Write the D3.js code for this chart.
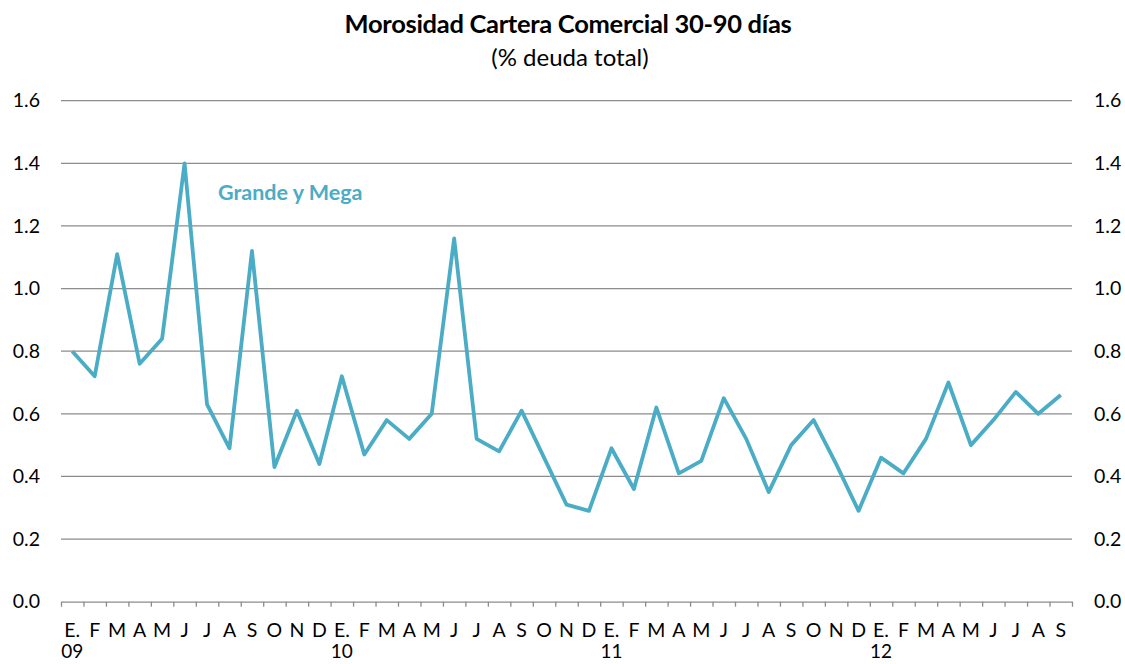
<!DOCTYPE html>
<html>
<head>
<meta charset="utf-8">
<script src="https://cdn.jsdelivr.net/npm/d3@7"></script>
<style>
  body { margin: 0; background: #fff; }
  text { font-family: Lato, "Open Sans", sans-serif; fill: #000; }
</style>
</head>
<body>
<svg id="chart" width="1125" height="664"></svg>
<script>
// months shown under the axis (E. = enero)
let months = ['E.','F','M','A','M','J','J','A','S','O','N','D',
              'E.','F','M','A','M','J','J','A','S','O','N','D',
              'E.','F','M','A','M','J','J','A','S','O','N','D',
              'E.','F','M','A','M','J','J','A','S']
let years = ['09','10','11','12']
// % deuda total, Grande y Mega, ene-09 .. sep-12
let grandeMega = [0.80, 0.72, 1.11, 0.76, 0.84, 1.40, 0.63, 0.49, 1.12, 0.43, 0.61, 0.44,
                  0.72, 0.47, 0.58, 0.52, 0.60, 1.16, 0.52, 0.48, 0.61, 0.46, 0.31, 0.29,
                  0.49, 0.36, 0.62, 0.41, 0.45, 0.65, 0.52, 0.35, 0.50, 0.58, 0.44, 0.29,
                  0.46, 0.41, 0.52, 0.70, 0.50, 0.58, 0.67, 0.60, 0.66]
let yTicks = [0, 0.2, 0.4, 0.6, 0.8, 1.0, 1.2, 1.4, 1.6]

let svg = d3.select('#chart')
let plotLeft = 61, plotRight = 1072, plotTop = 100.7, plotBottom = 601.7
let lineColor = '#4bacc6'

// scales
let x = d3.scaleBand().domain(d3.range(months.length)).range([plotLeft, plotRight]).padding(0)
let xb = d3.scaleLinear().domain([0, months.length]).range([plotLeft, plotRight])
let y = d3.scaleLinear().domain([0, 1.6]).range([plotBottom, plotTop])

// gridlines
svg.append('g')
  .selectAll('line')
  .data(yTicks.filter(d => d > 0))
  .join('line')
  .attr('x1', plotLeft).attr('x2', plotRight)
  .attr('y1', d => y(d)).attr('y2', d => y(d))
  .attr('stroke', '#8c8c8c').attr('stroke-width', 1.3)

// x axis: boundary ticks
let xAxis = svg.append('g')
  .attr('transform', 'translate(0,' + plotBottom + ')')
  .call(d3.axisBottom(xb).tickValues(d3.range(months.length + 1)).tickFormat('').tickSizeInner(5).tickSizeOuter(0))
xAxis.selectAll('path, line').attr('stroke', '#8c8c8c').attr('stroke-width', 1.3)

// month labels
svg.append('g')
  .selectAll('text')
  .data(months)
  .join('text')
  .attr('x', (d, i) => x(i) + x.bandwidth() / 2)
  .attr('y', 637)
  .attr('text-anchor', 'middle')
  .style('font-size', '19.5px')
  .text(d => d)

// year labels under each E.
svg.append('g')
  .selectAll('text')
  .data(years)
  .join('text')
  .attr('x', (d, i) => x(i * 12) + x.bandwidth() / 2)
  .attr('y', 658)
  .attr('text-anchor', 'middle')
  .style('font-size', '19px')
  .text(d => d)

// y axes, both sides
let fmt = d3.format('.1f')
let yl = svg.append('g')
  .attr('transform', 'translate(40,0)')
  .call(d3.axisLeft(y).tickValues(yTicks).tickFormat(fmt).tickSize(0).tickPadding(0))
let yr = svg.append('g')
  .attr('transform', 'translate(1094,0)')
  .call(d3.axisRight(y).tickValues(yTicks).tickFormat(fmt).tickSize(0).tickPadding(0))
;[yl, yr].forEach(g => {
  g.select('.domain').remove()
  g.selectAll('text').style('font-size', '19.5px').style('font-family', 'Lato, sans-serif').attr('fill', '#000')
})

// the series
let valueline = d3.line()
  .x((d, i) => x(i) + x.bandwidth() / 2)
  .y(d => y(d))
svg.append('path')
  .datum(grandeMega)
  .attr('d', valueline)
  .attr('fill', 'none')
  .attr('stroke', lineColor)
  .attr('stroke-width', 3.8)
  .attr('stroke-linejoin', 'round')

// series label
svg.append('text')
  .attr('x', 218).attr('y', 200)
  .style('font-size', '21.5px').style('font-weight', 'bold')
  .style('fill', lineColor)
  .text('Grande y Mega')

// title
svg.append('text')
  .attr('x', 568).attr('y', 33)
  .attr('text-anchor', 'middle')
  .style('font-size', '25.5px').style('font-weight', 'bold')
  .style('letter-spacing', '-0.3px')
  .text('Morosidad Cartera Comercial 30-90 días')
svg.append('text')
  .attr('x', 570).attr('y', 66)
  .attr('text-anchor', 'middle')
  .style('font-size', '24px')
  .text('(% deuda total)')
</script>
</body>
</html>
